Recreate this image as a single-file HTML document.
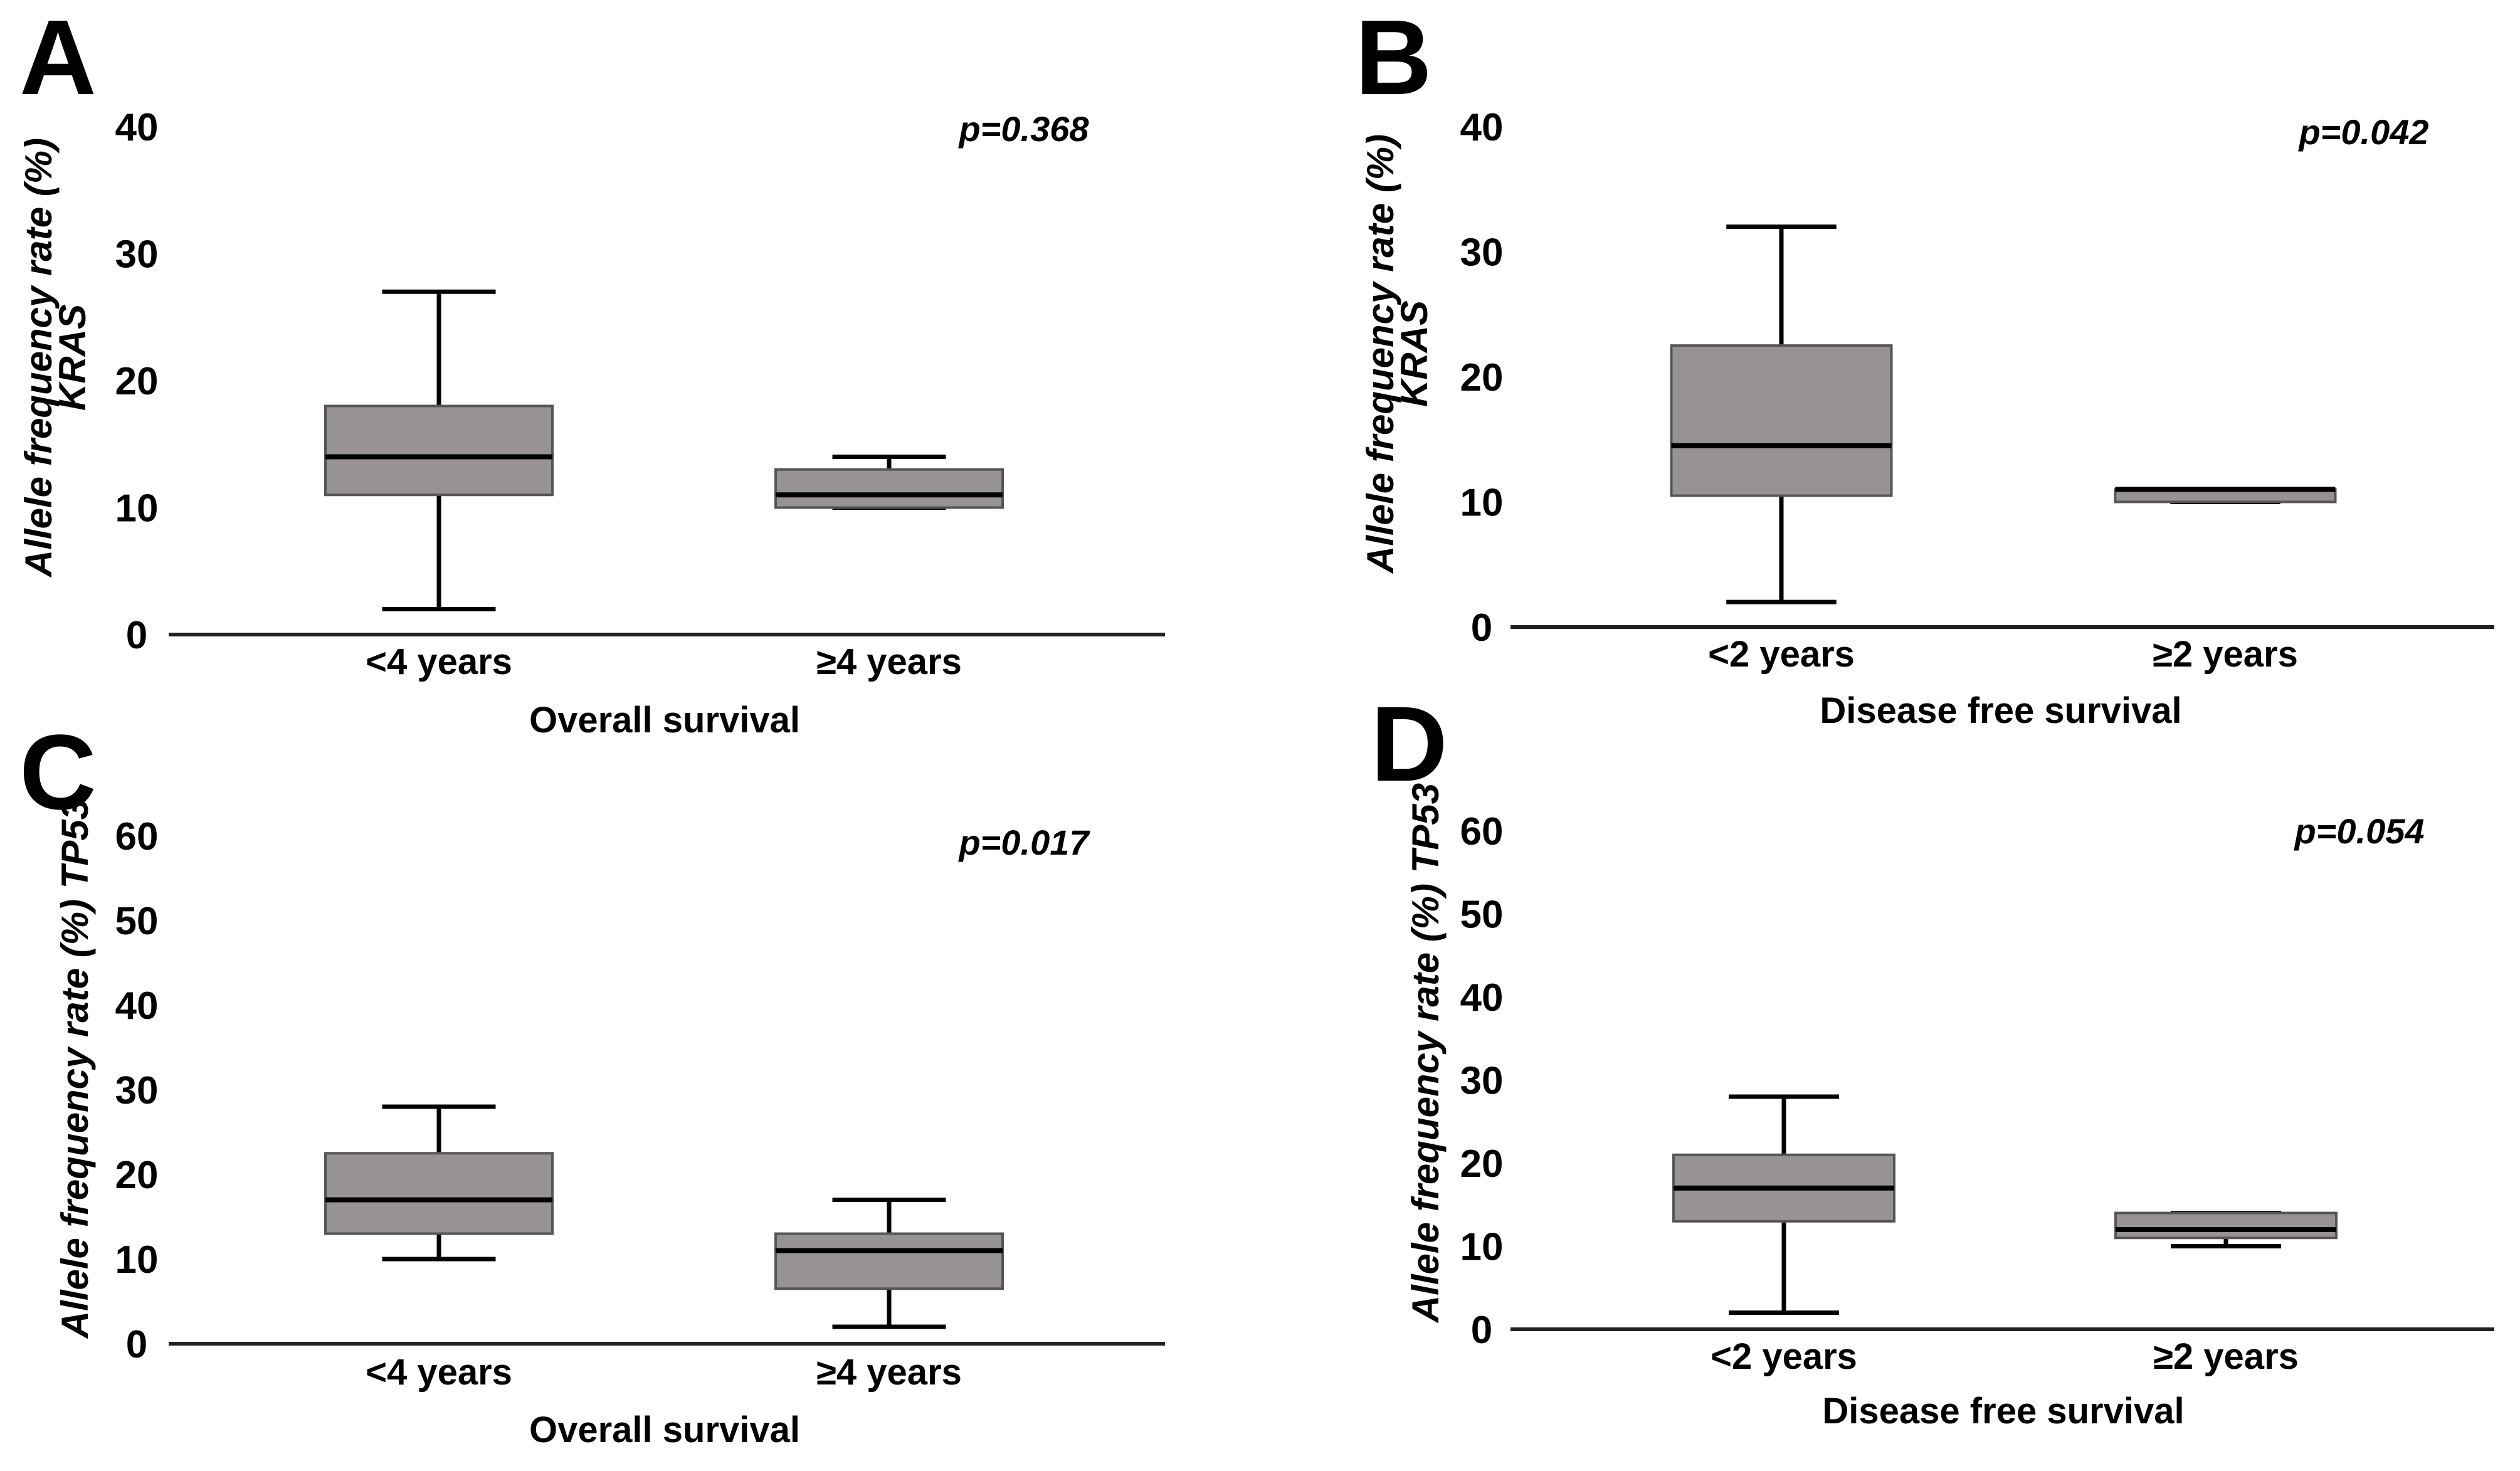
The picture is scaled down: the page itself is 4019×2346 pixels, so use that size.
<!DOCTYPE html>
<html><head><meta charset="utf-8"><style>
html,body{margin:0;padding:0;background:#fff;}
svg{display:block;}
text{font-family:"Liberation Sans Narrow","Liberation Sans",sans-serif;font-weight:bold;fill:#000;}
</style></head><body>
<svg id="fig" width="4019" height="2346" viewBox="0 0 4019 2346" xmlns="http://www.w3.org/2000/svg"></svg>
<script>
// Panel data (values in %)
const panelIds = ['A','B','C','D'];
const categoriesA = ['<4 years','\u22654 years'];
const categoriesB = ['<2 years','\u22652 years'];
const yTicksAB = [0,10,20,30,40];
const yTicksCD = [0,10,20,30,40,50,60];
const pValues = ['p=0.368','p=0.042','p=0.017','p=0.054'];
const xTitles = ['Overall survival','Disease free survival','Overall survival','Disease free survival'];
// [whiskerLow, q1, median, q3, whiskerHigh]
const boxesA = [[2,11,14,18,27],[10,10,11,13,14]];
const boxesB = [[2,10.5,14.5,22.5,32],[10,10,11,11,11]];
const boxesC = [[10,13,17,22.5,28],[2,6.5,11,13,17]];
const boxesD = [[2,13,17,21,28],[10,11,12,14,14]];

const layout = [
 {x0:269,x1:1858,y0:1012,yTop:202,max:40,tickX:218,cx:[700,1418],bw:362,letter:[31,150],p:[1633,225],cat:1075,title:[1060,1168],yl:[[64,'Allele frequency rate (%)'],[118,'KRAS']],ylc:570},
 {x0:2409,x1:3978,y0:1000,yTop:202,max:40,tickX:2363,cx:[2841,3549],bw:351,letter:[2161,150],p:[3770,230],cat:1063,title:[3191,1153],yl:[[2204,'Allele frequency rate (%)'],[2258,'KRAS']],ylc:564},
 {x0:269,x1:1858,y0:2143,yTop:1333,max:60,tickX:218,cx:[700,1418],bw:362,letter:[31,1290],p:[1633,1363],cat:2208,title:[1060,2300],yl:[[122,'Allele frequency rate (%)  TP53']],ylc:1704},
 {x0:2409,x1:3978,y0:2120,yTop:1325,max:60,tickX:2363,cx:[2845,3550],bw:352,letter:[2186,1245],p:[3763,1345],cat:2183,title:[3195,2270],yl:[[2276,'Allele frequency rate (%)  TP53']],ylc:1679}
];
const allBoxes=[boxesA,boxesB,boxesC,boxesD];
const allCats=[categoriesA,categoriesB,categoriesA,categoriesB];
const allTicks=[yTicksAB,yTicksAB,yTicksCD,yTicksCD];
const svg=document.getElementById('fig');
const NS='http://www.w3.org/2000/svg';
function mk(tag,attrs,parent){const e=document.createElementNS(NS,tag);for(const k in attrs)e.setAttribute(k,attrs[k]);(parent||svg).appendChild(e);return e;}
layout.forEach((L,i)=>{
 const g=mk('g',{});
 
 
 const y=v=>L.y0-(v/L.max)*(L.y0-L.yTop);
 const lt=mk('text',{x:L.letter[0],y:L.letter[1],'font-size':170,'font-family':'Liberation Sans'},g);
 lt.textContent=panelIds[i];
 
 
 const ax=mk('line',{x1:L.x0,x2:L.x1,y1:L.y0,y2:L.y0,stroke:'#222','stroke-width':6},g);
 
 
 allTicks[i].forEach(t=>{
  const tx=mk('text',{x:L.tickX,y:y(t)+22,'font-size':62,'text-anchor':'middle'},g);
  tx.textContent=t;
  
  
 });
 allBoxes[i].forEach((b,j)=>{
  const cx=L.cx[j],hw=L.bw/2,cw=L.bw*0.25;
  const bg=mk('g',{},g);
  
  
  mk('line',{x1:cx,x2:cx,y1:y(b[0]),y2:y(b[1]),stroke:'#000','stroke-width':7},bg);
  mk('line',{x1:cx,x2:cx,y1:y(b[3]),y2:y(b[4]),stroke:'#000','stroke-width':7},bg);
  mk('line',{x1:cx-cw,x2:cx+cw,y1:y(b[0]),y2:y(b[0]),stroke:'#000','stroke-width':7},bg);
  mk('line',{x1:cx-cw,x2:cx+cw,y1:y(b[4]),y2:y(b[4]),stroke:'#000','stroke-width':7},bg);
  mk('rect',{x:cx-hw,y:y(b[3]),width:L.bw,height:Math.max(y(b[1])-y(b[3]),1),fill:'#979393',stroke:'#555','stroke-width':4},bg);
  mk('line',{x1:cx-hw,x2:cx+hw,y1:y(b[2]),y2:y(b[2]),stroke:'#000','stroke-width':8},bg);
  const cl=mk('text',{x:cx,y:L.cat,'font-size':58,'text-anchor':'middle'},g);
  cl.textContent=allCats[i][j];
  
  
 });
 const pv=mk('text',{x:L.p[0],y:L.p[1],'font-size':56,'font-style':'italic','text-anchor':'middle'},g);
 pv.textContent=pValues[i];
 
 
 const xt=mk('text',{x:L.title[0],y:L.title[1],'font-size':58,'text-anchor':'middle'},g);
 xt.textContent=xTitles[i];
 
 
 L.yl.forEach(([x,s])=>{
  const t=mk('text',{x:0,y:0,'font-size':60,'font-style':'italic','font-weight':'bold','font-family':'Liberation Sans','text-anchor':'middle',transform:`translate(${x+18},${L.ylc}) rotate(-90)`},g);
  t.textContent=s;
  
  
 });
});
</script>
</body></html>
